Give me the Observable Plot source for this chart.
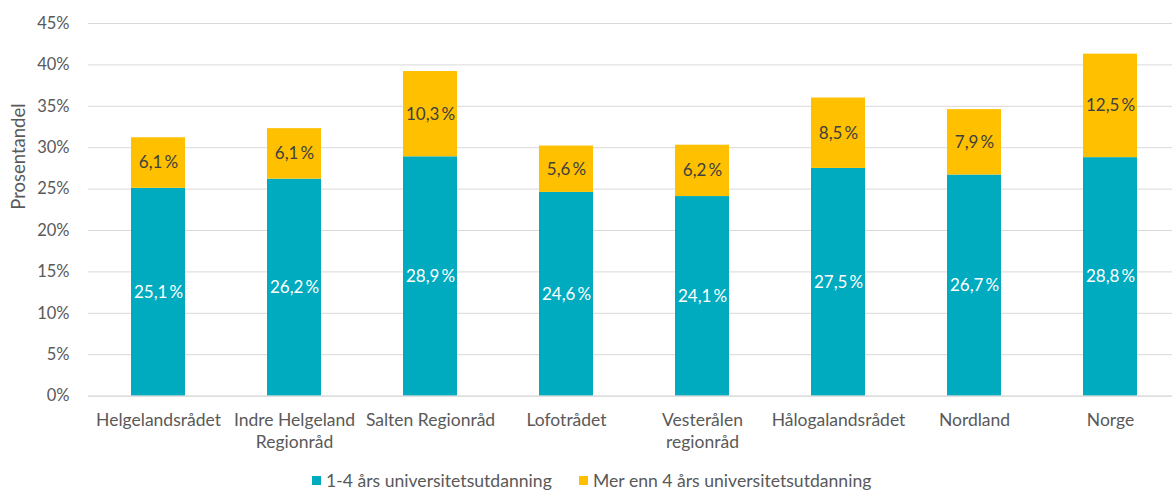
<!DOCTYPE html>
<html><head><meta charset="utf-8">
<script src="https://cdn.jsdelivr.net/npm/d3@7"></script>
<script src="https://cdn.jsdelivr.net/npm/@observablehq/plot@0.6"></script>
<style>
body{margin:0;background:#fff;font-family:Lato,"Noto Sans",sans-serif;overflow:hidden;}
#legend{position:relative;height:32px;font-size:17.6px;color:#595959;}
.item{position:absolute;top:10px;display:flex;align-items:center;white-space:nowrap;line-height:21px;}
.sw{width:9px;height:9px;margin-right:5px;}
</style></head><body><div id="chart"></div><div id="legend"></div>
<script>
const categories = ["Helgelandsrådet","Indre Helgeland Regionråd","Salten Regionråd","Lofotrådet","Vesterålen regionråd","Hålogalandsrådet","Nordland","Norge"];
const tickLabels = ["Helgelandsrådet","Indre Helgeland\nRegionråd","Salten Regionråd","Lofotrådet","Vesterålen\nregionråd","Hålogalandsrådet","Nordland","Norge"];
const shortEdu = [25.1,26.2,28.9,24.6,24.1,27.5,26.7,28.8];
const longEdu = [6.1,6.1,10.3,5.6,6.2,8.5,7.9,12.5];
const seriesNames = ["1-4 års universitetsutdanning","Mer enn 4 års universitetsutdanning"];
const seriesColors = ["#00ABC0","#FFC000"];
const labelColors = ["#ffffff","#404040"];
const yTicks = [0,5,10,15,20,25,30,35,40,45];

const data = categories.flatMap((c,i)=>[
  {cat:c, series:seriesNames[0], value:shortEdu[i], idx:0},
  {cat:c, series:seriesNames[1], value:longEdu[i], idx:1}
]);
const fmt = v => v.toFixed(1).replace(".", ",") + "\u2009%";
const tickMap = new Map(categories.map((c,i)=>[c,tickLabels[i]]));

const chart = Plot.plot({
  width:1172, height:460,
  marginTop:23, marginBottom:64.4, marginLeft:88, marginRight:0,
  style:{fontFamily:"Lato, 'Noto Sans', sans-serif", fontSize:"16px", color:"#595959", background:"#fff"},
  x:{domain:categories, range:[88,1180], paddingInner:0.6, paddingOuter:0.29, label:null},
  y:{domain:[0,45], label:null},
  color:{domain:seriesNames, range:seriesColors},
  marks:[
    Plot.gridY(yTicks, {stroke:"#d9d9d9", strokeOpacity:1}),
    Plot.barY(data, Plot.stackY({x:"cat", y:"value", fill:"series"})),
    Plot.ruleY([0], {stroke:"#d9d9d9", strokeWidth:1}),
    Plot.text(data, Plot.stackY({x:"cat", y:"value", z:"series", text:d=>fmt(d.value), fill:d=>labelColors[d.idx], fontSize:17})),
    Plot.axisY(yTicks, {tickSize:0, tickPadding:19, tickFormat:d=>d+"%", label:null, fill:"#595959", fontSize:16.5}),
    Plot.axisX({tickSize:0, tickPadding:14, tickFormat:d=>tickMap.get(d), lineHeight:1.27, label:null, fill:"#595959", fontSize:17.5}),
    Plot.text(["Prosentandel"], {frameAnchor:"left", rotate:-90, dx:-69, fill:"#595959", fontSize:18.5})
  ]
});
document.getElementById("chart").appendChild(chart);

const legend = document.getElementById("legend");
const lefts = [312, 579];
seriesNames.forEach((s,i)=>{
  const it = document.createElement("div");
  it.className = "item";
  it.style.left = lefts[i] + "px";
  it.innerHTML = `<span class="sw" style="background:${seriesColors[i]}"></span><span>${s}</span>`;
  legend.appendChild(it);
});
</script></body></html>
